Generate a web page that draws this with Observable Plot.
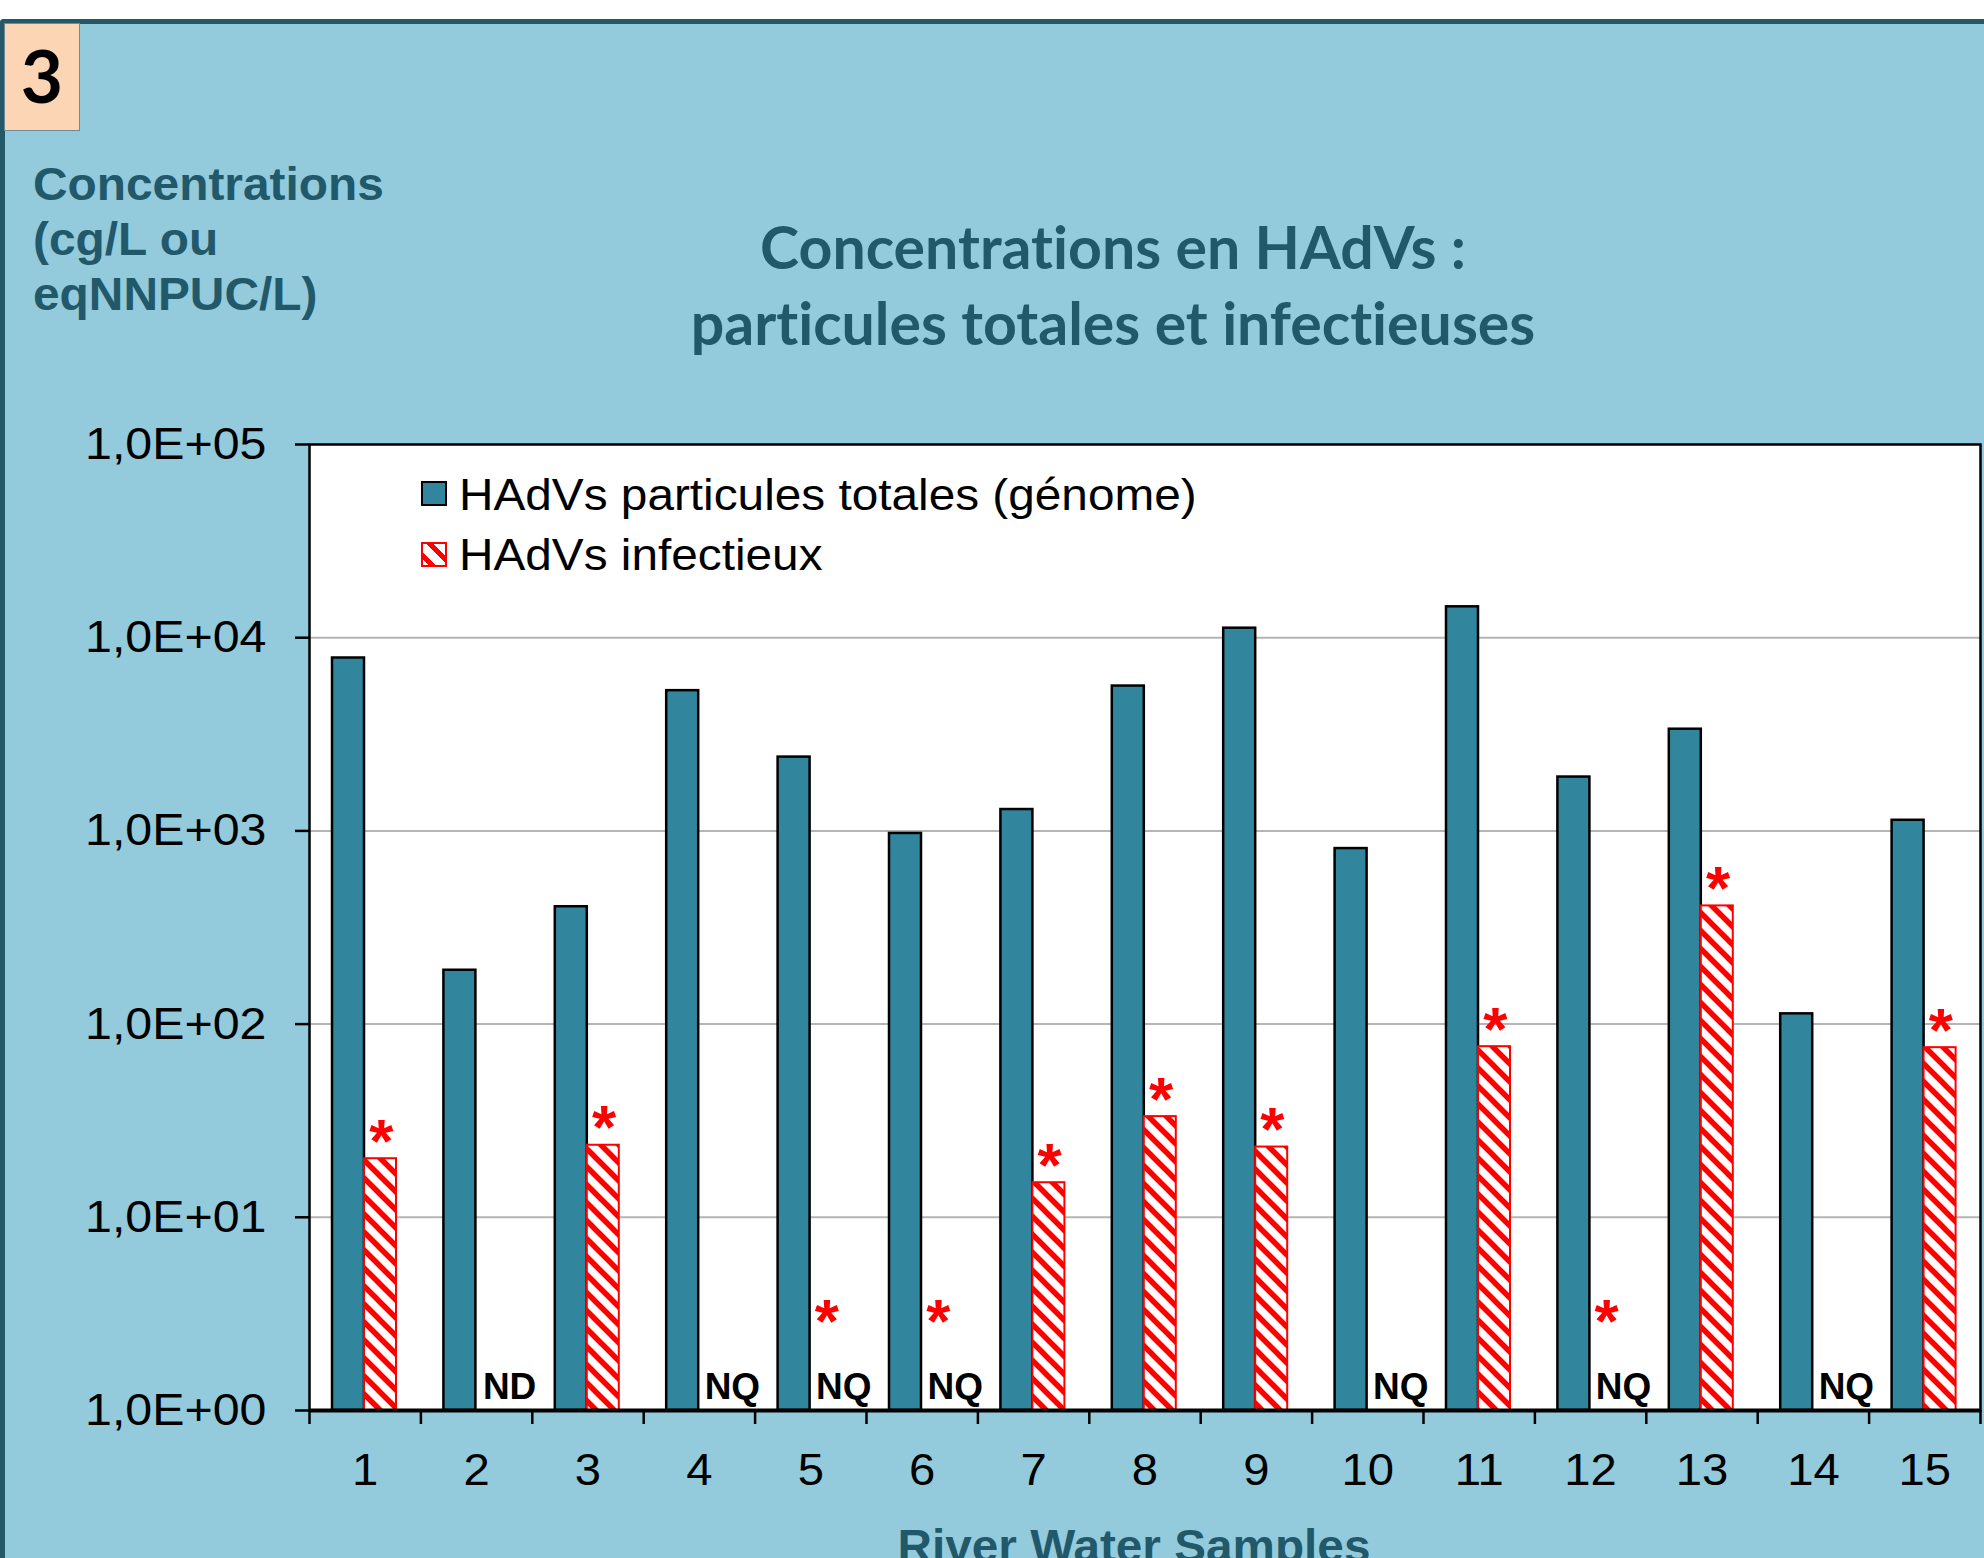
<!DOCTYPE html>
<html>
<head>
<meta charset="utf-8">
<script src="https://cdn.jsdelivr.net/npm/d3@7"></script>
<script src="https://cdn.jsdelivr.net/npm/@observablehq/plot@0.6"></script>
<style>
  html, body { margin: 0; padding: 0; width: 1984px; height: 1558px; overflow: hidden; background: #ffffff; }
  #panel { position: absolute; left: 0; top: 19px; width: 1984px; height: 1539px; box-sizing: border-box;
           background: #93cbdc; border-top: 5px solid #245a68; border-left: 5px solid #245a68; border-top-left-radius: 4px; }
  #badge { position: absolute; left: 4px; top: 23px; width: 76px; height: 108px; box-sizing: border-box;
           background: #fcd5b5; border: 1.5px solid #6f8a92; }
  #badge span { position: absolute; left: 0; width: 100%; text-align: center; top: 15px;
           font: 700 73px/73px Lato, "Liberation Sans", sans-serif; color: #000; }
  .teal { color: #22596a; }
  #ylab { position: absolute; left: 33px; top: 157px; font: 700 46px/55px "Liberation Sans", Arial, sans-serif;
          transform: scaleX(1.04); transform-origin: left top; white-space: nowrap; }
  #title { position: absolute; left: 1113px; top: 209px; white-space: nowrap; text-align: center;
           font: 700 59px/76px Lato, "Liberation Sans", sans-serif; transform: translateX(-50%);
           font-variant-ligatures: none; font-feature-settings: "liga" 0; }
  #xlab { position: absolute; left: 1134px; top: 1522px; white-space: nowrap;
          font: 700 47px/47px "Liberation Sans", Arial, sans-serif; transform: translateX(-50%) scaleX(1.015); }
  #chart { position: absolute; left: 0; top: 400px; }
  .leg { position: absolute; font: 400 44px/44px "Liberation Sans", Arial, sans-serif; color: #000; white-space: nowrap;
         transform: scaleX(1.085); transform-origin: left center; }
  .sw { position: absolute; box-sizing: border-box; }
</style>
</head>
<body>
<div id="panel"></div>
<div id="badge"><span>3</span></div>
<div id="ylab" class="teal">Concentrations<br>(cg/L ou<br>eqNNPUC/L)</div>
<div id="title" class="teal">Concentrations en HAdVs :<br>particules totales et infectieuses</div>
<div id="chart"></div>
<div id="legend"></div>
<div id="xlab" class="teal">River Water Samples</div>
<script>
// ---- data ----
const samples = ["1","2","3","4","5","6","7","8","9","10","11","12","13","14","15"];
const totalGenome = [7850, 190, 405, 5320, 2410, 970, 1290, 5620, 11200, 810, 14450, 1900, 3360, 113, 1135];
const infectious = [20.1, null, 23.6, null, null, null, 15.1, 33.2, 23.1, null, 76.4, null, 409, null, 75.5];
const infectiousNote = ["", "ND", "", "NQ", "NQ", "NQ", "", "", "", "NQ", "", "NQ", "", "NQ", ""];
const significant = [true, false, true, false, true, true, true, true, true, false, true, true, true, false, true];
const yTicks = [1, 10, 100, 1000, 10000, 100000];
const yTickLabels = ["1,0E+00", "1,0E+01", "1,0E+02", "1,0E+03", "1,0E+04", "1,0E+05"];
const seriesNames = ["HAdVs particules totales (génome)", "HAdVs infectieux"];

const rows = samples.map((s, i) => ({sample: s, total: totalGenome[i], inf: infectious[i], note: infectiousNote[i], star: significant[i]}));

// ---- layout ----
const W = 1984, H = 1158;
const mL = 309, mR = 4, mT = 44, mB = 148;
const bw = (W - mL - mR) / samples.length;
const TEAL = "#31859c";

const svg = Plot.plot({
  width: W, height: H,
  marginLeft: mL, marginRight: mR, marginTop: mT, marginBottom: mB,
  style: {background: "transparent", overflow: "visible", fontFamily: "'Liberation Sans', Arial, sans-serif", fontSize: "45px", color: "#000"},
  x: {type: "band", domain: samples, padding: 0, round: false},
  y: {type: "log", domain: [1, 100000]},
  marks: [
    Plot.frame({fill: "white", stroke: null}),
    Plot.ruleY(yTicks.slice(1, -1), {stroke: "#b5b5b5", strokeWidth: 2}),
    Plot.barY(rows, {x: "sample", y1: 1, y2: "total", fill: TEAL, stroke: "#000", strokeWidth: 2.5,
      insetLeft: 23, insetRight: bw - 55}),
    Plot.barY(rows.filter(d => d.inf != null), {x: "sample", y1: 1, y2: "inf", fill: "url(#hatch)", stroke: "#ff0000", strokeWidth: 2,
      insetLeft: 55, insetRight: bw - 87}),
    Plot.text(rows.filter(d => d.note), {x: "sample", y: 1, text: "note", dx: 33, dy: -12, lineAnchor: "bottom",
      fontWeight: 700, fontSize: 37, fill: "#000"}),
    Plot.text(rows.filter(d => d.star && d.inf != null), {x: "sample", y: "inf", text: () => "*", dx: 16, dy: 3, lineAnchor: "bottom",
      fontWeight: 700, fontSize: 62, fill: "#ff0000"}),
    Plot.text(rows.filter(d => d.star && d.inf == null), {x: "sample", y: 1, text: () => "*", dx: 16, dy: -69, lineAnchor: "bottom",
      fontWeight: 700, fontSize: 62, fill: "#ff0000"}),
    Plot.frame({stroke: "#000", strokeWidth: 2.5}),
    Plot.ruleY([1], {stroke: "#000", strokeWidth: 4}),
    Plot.axisY({ticks: yTicks, tickFormat: d => yTickLabels[yTicks.indexOf(d)], tickSize: 14, tickPadding: 29,
      strokeWidth: 2.5, label: null, fontSize: 45}),
    Plot.axisX({tickSize: 14, fill: "none", dx: -bw / 2, strokeWidth: 2.5, label: null}),
    Plot.axisX({ticks: [samples[samples.length - 1]], tickSize: 14, fill: "none", dx: bw / 2, strokeWidth: 2.5, label: null}),
    Plot.axisX({tickSize: 0, tickPadding: 43, fontSize: 45, label: null})
  ]
});

const root = d3.select(svg);
const defs = root.insert("defs", ":first-child");
const pat = defs.append("pattern").attr("id", "hatch").attr("patternUnits", "userSpaceOnUse")
  .attr("width", 18).attr("height", 18);
pat.append("rect").attr("width", 18).attr("height", 18).attr("fill", "#fff");
pat.append("path").attr("d", "M-3,-3L21,21M15,-3L21,3M-3,15L3,21").attr("stroke", "#ff0000").attr("stroke-width", 5.5);

// horizontally widen axis tick labels around their anchor (the reference text is slightly stretched)
function widen(sel, s) {
  sel.each(function () {
    const x = +(this.getAttribute("x") || 0);
    const t = this.getAttribute("transform") || "";
    this.setAttribute("transform", `${t} translate(${x},0) scale(${s},1) translate(${-x},0)`);
  });
}
widen(root.selectAll('[aria-label="y-axis tick label"] text'), 1.075);
widen(root.selectAll('[aria-label="x-axis tick label"] text'), 1.05);

document.getElementById("chart").appendChild(svg);

// ---- legend (inside plot area) ----
const legend = document.getElementById("legend");
const legendSwatches = [
  {left: 421, top: 481, style: `background:${TEAL};border:2.5px solid #000;`},
  {left: 421, top: 542, style: "background:repeating-linear-gradient(45deg,#fff 0 4px,#ff0000 4px 9px,#fff 9px 13px);border:2px solid #ff0000;"}
];
seriesNames.forEach((name, i) => {
  const sw = document.createElement("div");
  sw.className = "sw";
  sw.style.cssText = `left:${legendSwatches[i].left}px;top:${legendSwatches[i].top}px;width:26px;height:25px;` + legendSwatches[i].style;
  legend.appendChild(sw);
  const t = document.createElement("div");
  t.className = "leg";
  t.style.left = "459px";
  t.style.top = (473 + i * 60) + "px";
  t.textContent = name;
  legend.appendChild(t);
});
</script>
</body>
</html>
